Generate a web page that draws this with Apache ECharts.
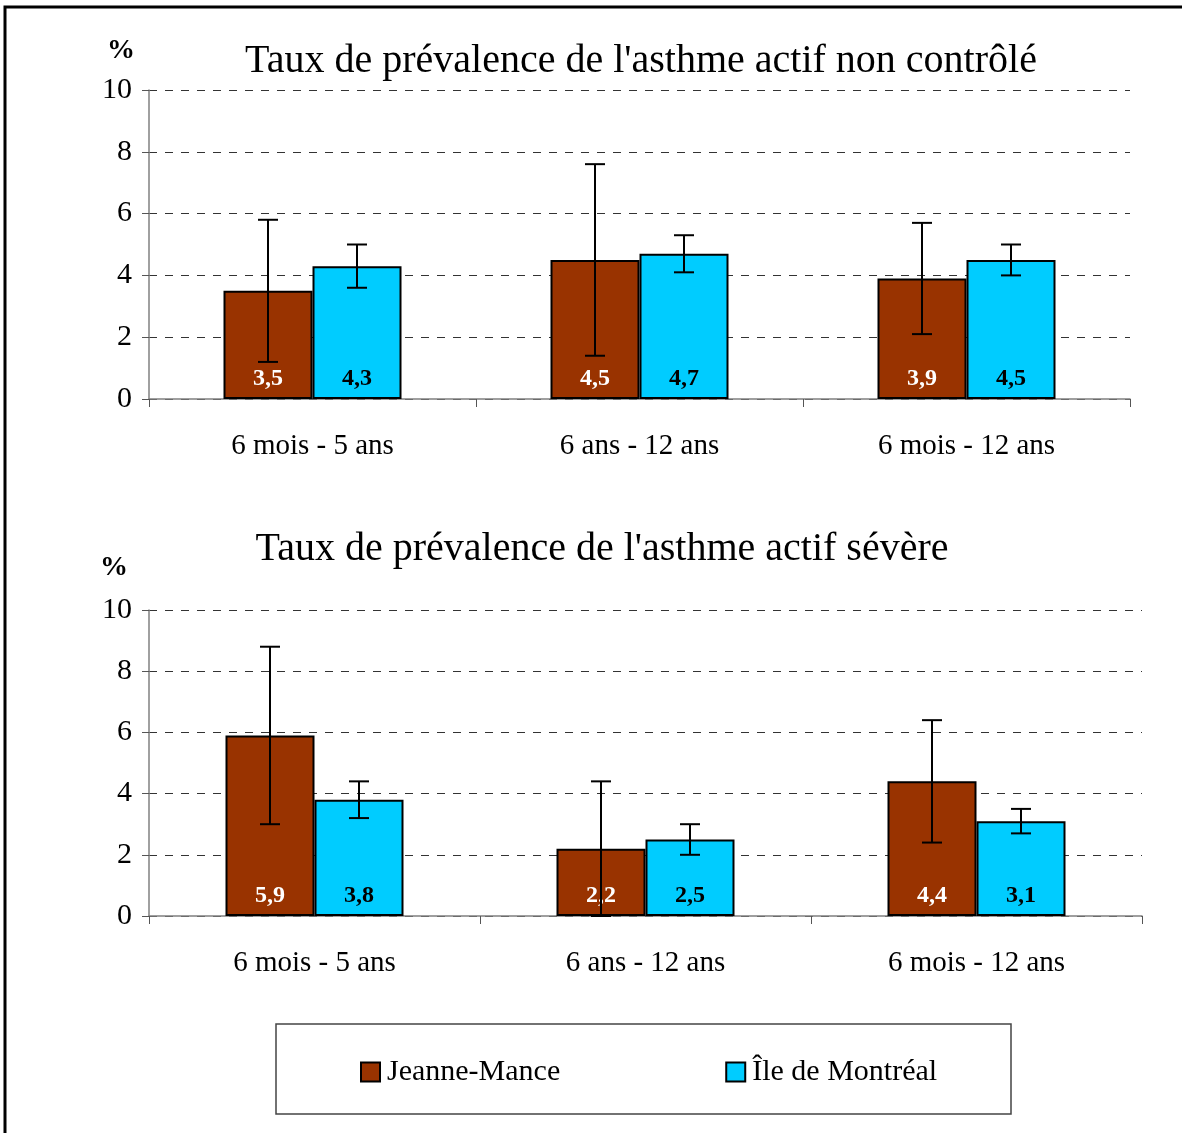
<!DOCTYPE html>
<html lang="fr" style="height: 100%">
<head>
    <meta charset="utf-8">
    <script src="https://cdn.jsdelivr.net/npm/echarts@6/dist/echarts.min.js"></script>
</head>
<body style="height: 100%; margin: 0; background: #fff">
<div id="container" style="width: 1182px; height: 1133px"></div>

<script type="text/javascript">
    // données
    var categories = ['6 mois - 5 ans', '6 ans - 12 ans', '6 mois - 12 ans'];
    var seriesNames = ['Jeanne-Mance', 'Île de Montréal'];

    // asthme actif non contrôlé
    var ncJeanne = [3.5, 4.5, 3.9];
    var ncJeanneLow = [1.2, 1.4, 2.1];
    var ncJeanneHigh = [5.8, 7.6, 5.7];
    var ncMtl = [4.3, 4.7, 4.5];
    var ncMtlLow = [3.6, 4.1, 4.0];
    var ncMtlHigh = [5.0, 5.3, 5.0];

    // asthme actif sévère
    var svJeanne = [5.9, 2.2, 4.4];
    var svJeanneLow = [3.0, 0, 2.4];
    var svJeanneHigh = [8.8, 4.4, 6.4];
    var svMtl = [3.8, 2.5, 3.1];
    var svMtlLow = [3.2, 2.0, 2.7];
    var svMtlHigh = [4.4, 3.0, 3.5];

    var BROWN = '#993300';
    var CYAN = '#00ccff';
    var FONT = '"Liberation Serif", "Times New Roman", serif';
    var BAR_W = 89;

    var myChart = echarts.init(document.getElementById('container'));

    function xAxisFor(idx) {
        return {
            type: 'category',
            gridIndex: idx,
            data: categories,
            axisLine: {lineStyle: {color: '#808080', width: 1.5}},
            axisTick: {show: true, length: 8, alignWithLabel: false, lineStyle: {color: '#555'}},
            axisLabel: {color: '#000', fontFamily: FONT, fontSize: 29, margin: 33}
        };
    }

    function yAxisFor(idx) {
        return {
            type: 'value',
            gridIndex: idx,
            min: 0,
            max: 10,
            interval: 2,
            axisLine: {show: true, lineStyle: {color: '#808080', width: 1.5}},
            axisTick: {show: true, length: 7, lineStyle: {color: '#555'}},
            axisLabel: {color: '#000', fontFamily: FONT, fontSize: 30, margin: 17},
            splitLine: {show: true, lineStyle: {color: '#333', type: [8, 8], width: 1}}
        };
    }

    function barSeries(name, values, idx, color, labelColor) {
        return {
            name: name,
            type: 'bar',
            xAxisIndex: idx,
            yAxisIndex: idx,
            data: values,
            barWidth: BAR_W,
            barGap: '0%',
            itemStyle: {color: color, borderColor: '#000', borderWidth: 2},
            label: {
                show: true,
                position: 'insideBottom',
                distance: 8,
                color: labelColor,
                fontFamily: FONT,
                fontWeight: 'bold',
                fontSize: 24,
                formatter: function (p) {
                    return String(p.value).replace('.', ',');
                }
            },
            z: 2
        };
    }

    // barres d'erreur (intervalle de confiance)
    function errorSeries(low, high, idx, side) {
        var data = low.map(function (l, i) { return [i, l, high[i]]; });
        return {
            type: 'custom',
            xAxisIndex: idx,
            yAxisIndex: idx,
            data: data,
            z: 5,
            silent: true,
            renderItem: function (params, api) {
                var i = api.value(0);
                var lo = api.coord([i, api.value(1)]);
                var hi = api.coord([i, api.value(2)]);
                var x = lo[0] + side * BAR_W / 2;
                var cap = 10;
                var style = {stroke: '#000', lineWidth: 2};
                return {
                    type: 'group',
                    children: [
                        {type: 'line', shape: {x1: x, y1: lo[1], x2: x, y2: hi[1]}, style: style},
                        {type: 'line', shape: {x1: x - cap, y1: hi[1], x2: x + cap, y2: hi[1]}, style: style},
                        {type: 'line', shape: {x1: x - cap, y1: lo[1], x2: x + cap, y2: lo[1]}, style: style}
                    ]
                };
            }
        };
    }

    option = {
        backgroundColor: '#fff',
        animation: false,
        title: [
            {
                text: "Taux de prévalence de l'asthme actif non contrôlé",
                left: 636, top: 36, textAlign: 'center',
                textStyle: {fontFamily: FONT, fontSize: 40, fontWeight: 'normal', color: '#000'}
            },
            {
                text: "Taux de prévalence de l'asthme actif sévère",
                left: 597, top: 524, textAlign: 'center',
                textStyle: {fontFamily: FONT, fontSize: 40, fontWeight: 'normal', color: '#000'}
            },
            {
                text: '%', left: 102, top: 32,
                textStyle: {fontFamily: FONT, fontSize: 28, fontWeight: 'bold', color: '#000'}
            },
            {
                text: '%', left: 95, top: 549,
                textStyle: {fontFamily: FONT, fontSize: 28, fontWeight: 'bold', color: '#000'}
            }
        ],
        legend: {
            data: seriesNames,
            left: 355,
            top: 1052,
            itemWidth: 19,
            itemHeight: 19,
            itemGap: 165,
            icon: 'rect',
            itemStyle: {borderColor: '#000', borderWidth: 2},
            textStyle: {fontFamily: FONT, fontSize: 30, color: '#000', padding: [0, 0, 0, 2]}
        },
        graphic: [
            {
                type: 'rect',
                shape: {x: 5, y: 7, width: 1200, height: 1200},
                style: {fill: 'none', stroke: '#000', lineWidth: 3},
                silent: true
            },
            {
                type: 'rect',
                shape: {x: 276, y: 1024, width: 735, height: 90},
                style: {fill: 'none', stroke: '#444', lineWidth: 1.5},
                silent: true
            }
        ],
        grid: [
            {left: 149, top: 90, width: 981, height: 309},
            {left: 149, top: 610, width: 993, height: 306}
        ],
        xAxis: [xAxisFor(0), xAxisFor(1)],
        yAxis: [yAxisFor(0), yAxisFor(1)],
        series: [
            barSeries(seriesNames[0], ncJeanne, 0, BROWN, '#fff'),
            barSeries(seriesNames[1], ncMtl, 0, CYAN, '#000'),
            barSeries(seriesNames[0], svJeanne, 1, BROWN, '#fff'),
            barSeries(seriesNames[1], svMtl, 1, CYAN, '#000'),
            errorSeries(ncJeanneLow, ncJeanneHigh, 0, -1),
            errorSeries(ncMtlLow, ncMtlHigh, 0, 1),
            errorSeries(svJeanneLow, svJeanneHigh, 1, -1),
            errorSeries(svMtlLow, svMtlHigh, 1, 1)
        ]
    };

    myChart.setOption(option);
</script>
</body>
</html>
